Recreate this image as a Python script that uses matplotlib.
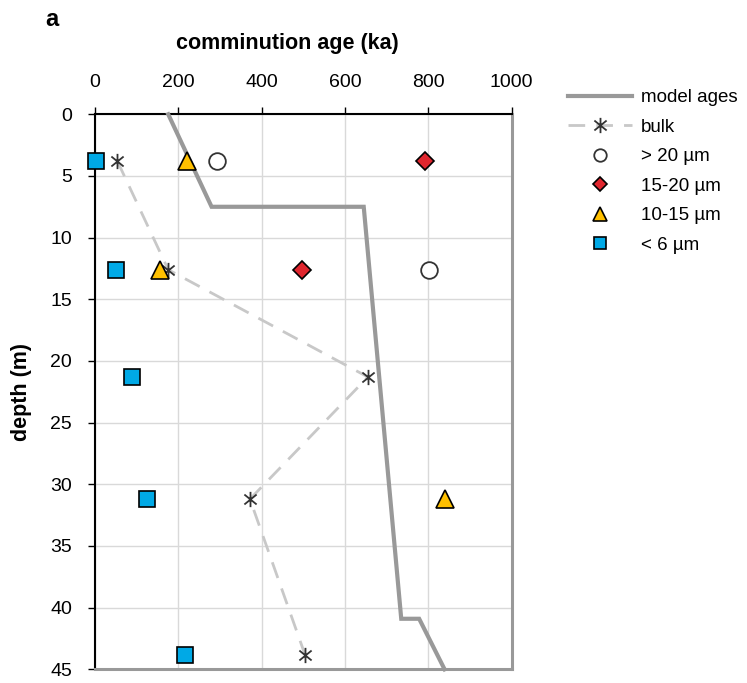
import matplotlib
matplotlib.use("Agg")
import matplotlib.pyplot as plt
from matplotlib.path import Path
import numpy as np

plt.rcParams['font.family'] = ['Liberation Sans', 'DejaVu Sans']

# model ages line
model_age = [176, 280, 645, 735, 778, 839]
model_depth = [0, 7.5, 7.5, 40.9, 40.9, 45]

# bulk
bulk_age = [54, 176, 655, 372, 504]
bulk_depth = [3.8, 12.6, 21.3, 31.2, 43.8]

# > 20 um
gt20_age = [292, 802]
gt20_depth = [3.8, 12.6]

# 15-20 um
f1520_age = [793, 497]
f1520_depth = [3.8, 12.6]

# 10-15 um
f1015_age = [221, 156, 839]
f1015_depth = [3.8, 12.6, 31.2]

# < 6 um
lt6_age = [2, 50, 88, 125, 217]
lt6_depth = [3.8, 12.6, 21.3, 31.2, 43.8]

xticks = [0, 200, 400, 600, 800, 1000]
yticks = [0, 5, 10, 15, 20, 25, 30, 35, 40, 45]

asterisk = Path([(0, -1), (0, 1), (-0.8, -0.65), (0.8, 0.65), (-0.8, 0.65), (0.8, -0.65)],
                [Path.MOVETO, Path.LINETO, Path.MOVETO, Path.LINETO, Path.MOVETO, Path.LINETO])

fig = plt.figure(figsize=(7.47, 6.83), dpi=100)
ax = fig.add_axes([0.127, 0.02, 0.558, 0.8127])

ax.plot(model_age, model_depth, color='#999999', lw=3, label='model ages', zorder=3,
        solid_joinstyle='miter', clip_on=False)
ax.plot(bulk_age, bulk_depth, color='#C8C8C8', lw=2, dashes=(6, 4), marker=asterisk,
        markersize=11, markeredgecolor='#333333', markeredgewidth=1.3, label='bulk', zorder=4)
ax.plot(gt20_age, gt20_depth, ls='none', marker='o', markersize=12, markerfacecolor='white',
        markeredgecolor='#333333', markeredgewidth=1.3, label='> 20 µm', zorder=5)
ax.plot(f1520_age, f1520_depth, ls='none', marker='D', markersize=9, markerfacecolor='#E0262E',
        markeredgecolor='black', markeredgewidth=1.2, label='15-20 µm', zorder=5)
ax.plot(f1015_age, f1015_depth, ls='none', marker='^', markersize=13, markerfacecolor='#FFC000',
        markeredgecolor='black', markeredgewidth=1.2, label='10-15 µm', zorder=5)
ax.plot(lt6_age, lt6_depth, ls='none', marker='s', markersize=11.5, markerfacecolor='#00A9E6',
        markeredgecolor='black', markeredgewidth=1.2, label='< 6 µm', zorder=6, clip_on=False)

ax.set_xlim(0, 1000)
ax.set_ylim(45, 0)
ax.set_xticks(xticks)
ax.set_yticks(yticks)
ax.xaxis.tick_top()
ax.tick_params(axis='both', direction='out', length=5, width=1, labelsize=14, colors='black')
ax.tick_params(axis='x', pad=12)
ax.tick_params(axis='y', pad=11.5)
ax.grid(True, color='#D9D9D9', lw=1)
ax.set_axisbelow(True)

ax.spines['top'].set_color('black')
ax.spines['top'].set_linewidth(1.5)
ax.spines['left'].set_color('black')
ax.spines['left'].set_linewidth(1.5)
ax.spines['right'].set_color('#999999')
ax.spines['right'].set_linewidth(2.2)
ax.spines['bottom'].set_color('#999999')
ax.spines['bottom'].set_linewidth(2.2)

fig.text(287 / 747, 1 - 44 / 683, 'comminution age (ka)', fontsize=15.5, fontweight='bold',
         ha='center', va='center')
fig.text(22 / 747, 1 - 392 / 683, 'depth (m)', fontsize=15.5, fontweight='bold',
         ha='center', va='center', rotation=90)
fig.text(45 / 747, 1 - 19 / 683, 'a', fontsize=17, fontweight='bold', ha='left', va='center')

leg = ax.legend(loc='upper left', bbox_to_anchor=(0.748, 0.8835), bbox_transform=fig.transFigure,
                frameon=False, fontsize=13.5, handlelength=3.4, handletextpad=0.5,
                labelspacing=0.66, borderpad=0, markerscale=0.75)
leg.legend_handles[1].set_markersize(11)

fig.savefig('out.png', dpi=100)
